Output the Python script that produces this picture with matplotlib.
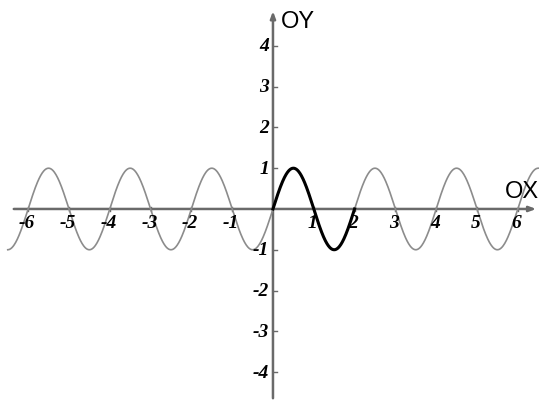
import numpy as np
import matplotlib
matplotlib.use("Agg")
import matplotlib.pyplot as plt

x_ticks = [-6, -5, -4, -3, -2, -1, 1, 2, 3, 4, 5, 6]
y_ticks = [-4, -3, -2, -1, 1, 2, 3, 4]
x_full = (-6.5, 6.5)
x_bold = (0.0, 2.0)
x_label = "OX"
y_label = "OY"

fig = plt.figure(figsize=(5.39, 4.02), dpi=100)
ax = fig.add_axes([0, 0, 1, 1])
ax.set_xlim(-6.69, 6.52)
ax.set_ylim(-4.71, 5.15)
ax.axis("off")

axis_col = "#6a6a6a"
ax.annotate("", xy=(6.52, 0), xytext=(-6.42, 0),
            arrowprops=dict(arrowstyle="-|>,head_length=0.4,head_width=0.15", color=axis_col, lw=1.8))
ax.annotate("", xy=(0, 4.92), xytext=(0, -4.71),
            arrowprops=dict(arrowstyle="-|>,head_length=0.4,head_width=0.15", color=axis_col, lw=1.8))

xs = np.linspace(*x_full, 1000)
ax.plot(xs, np.sin(np.pi * xs), color="#8c8c8c", lw=1.2, zorder=3)
xb = np.linspace(*x_bold, 300)
ax.plot(xb, np.sin(np.pi * xb), color="black", lw=2.2, zorder=4)

tfont = dict(family="Liberation Serif", weight="bold", style="italic", size=14)
for t in x_ticks:
    ax.plot([t, t], [-0.04, 0.04], color=axis_col, lw=1)
    ax.text(t - 0.03, -0.12, str(t), ha="center", va="top", **tfont)
for t in y_ticks:
    ax.plot([0, 0.1], [t, t], color=axis_col, lw=1)
    ax.text(-0.1, t, str(t), ha="right", va="center", **tfont)

ax.text(0.2, 4.62, y_label, ha="left", va="center", family="Liberation Sans", size=17)
ax.text(6.52, 0.45, x_label, ha="right", va="center", family="Liberation Sans", size=17)

fig.savefig("out.png", dpi=100)
